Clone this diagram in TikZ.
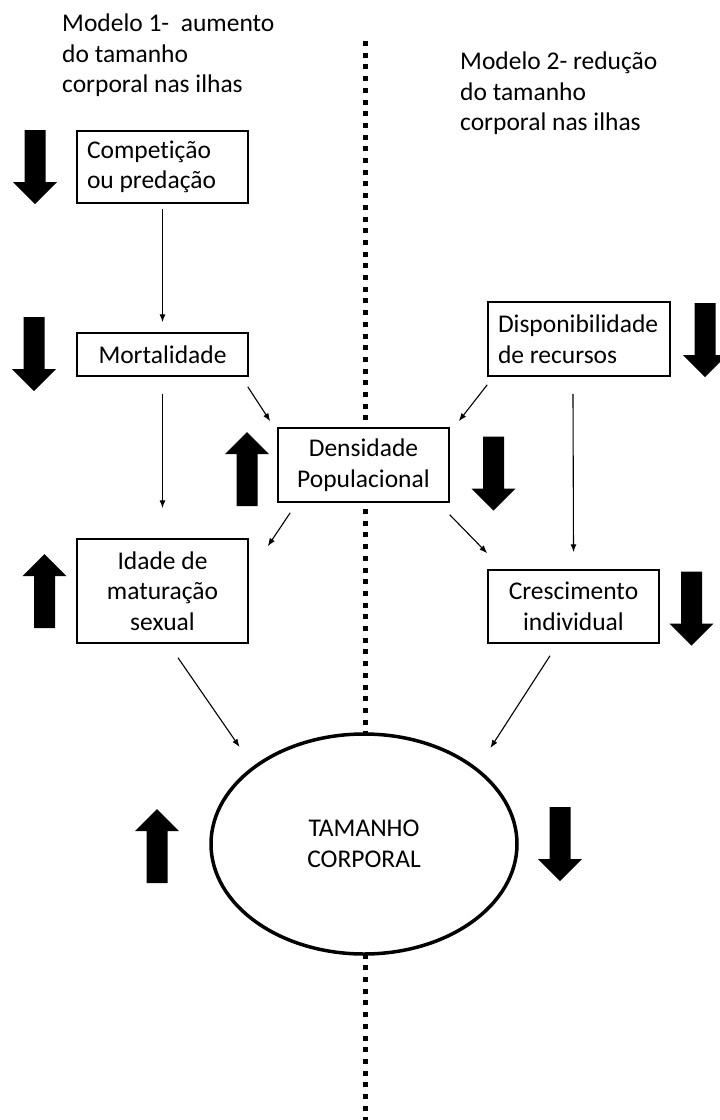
\documentclass[tikz,border=0pt]{standalone}
\usepackage{fontspec}
\setmainfont[Ligatures={NoCommon}]{Carlito}
\usetikzlibrary{arrows.meta,shapes.geometric}

\begin{document}
\begin{tikzpicture}[x=1pt,y=-1pt,
  every node/.style={font=\fontsize{25.5}{30.5}\selectfont},
  caixa/.style={draw,line width=1.5pt,fill=white,text width=151pt,
    inner xsep=10pt,inner ysep=0pt,align=flush center},
  conexao/.style={-{Latex[length=8pt,width=6pt]},line width=1.1pt},
  divisa/.style={line width=5pt,dash pattern=on 5pt off 6.7pt},
  seta baixo/.pic={\fill (-10.5,-37) -- (10.5,-37) -- (10.5,15) -- (22,15)
    -- (0,37) -- (-22,15) -- (-10.5,15) -- cycle;}]
  \useasboundingbox (0,0) rectangle (720,1120);
  % linha divisoria
  \coordinate (topo) at (365,41);
  \coordinate (fundo) at (365,1120);
  \draw[divisa] (topo) -- (fundo);
  % titulos
  \node[anchor=north west,inner sep=0pt,align=flush left] (mod1) at (62,14)
    {Modelo 1-\ \ aumento\\do tamanho\\corporal nas ilhas};
  \node[anchor=north west,inner sep=0pt,align=flush left] (mod2) at (460,52)
    {Modelo 2- redução\\do tamanho\\corporal nas ilhas};
  % caixas
  \node[caixa,align=flush left,minimum height=72pt] (comp) at (162.5,167) {Competição\\ou predação};
  \node[caixa,minimum height=43pt] (mort) at (162.5,354.5) {Mortalidade};
  \node[caixa,align=flush left,text width=162pt,minimum height=74pt] (disp) at (579,339) {Disponibilidade\\de recursos};
  \node[caixa,minimum height=74pt] (dens) at (363.5,465) {Densidade\\Populacional};
  \node[caixa,minimum height=104pt] (idade) at (162.5,591) {Idade de\\maturação\\sexual};
  \node[caixa,minimum height=73pt] (cresc) at (573.5,606.5) {Crescimento\\individual};
  \node[ellipse,draw,line width=3.5pt,fill=white,minimum width=306pt,minimum height=220pt,
    inner sep=0pt,align=flush center] (tam) at (364,844) {TAMANHO\\CORPORAL};
  % setas grossas
  \pic at (35,167) {seta baixo};
  \pic at (34,354) {seta baixo};
  \pic at (705,340) {seta baixo};
  \pic[rotate=180] at (247,469) {seta baixo};
  \pic at (493.5,473.5) {seta baixo};
  \pic[rotate=180] at (44.5,591) {seta baixo};
  \pic at (691.5,608.5) {seta baixo};
  \pic[rotate=180] at (157,846) {seta baixo};
  \pic at (560,844) {seta baixo};
  % ligacoes
  \draw[conexao] ([shift={(0,5)}]comp.south) -- ([shift={(0,-10)}]mort.north);
  \draw[conexao] ([shift={(-1,10)}]mort.south east) -- ([shift={(-7,-6)}]dens.north west);
  \draw[conexao] ([shift={(0,17)}]mort.south) -- ([shift={(0,-30)}]idade.north);
  \draw[conexao] ([shift={(0,8)}]disp.south west) -- ([shift={(9,-6)}]dens.north east);
  \draw[conexao] ([shift={(-6,17)}]disp.south) -- ([shift={(0,-17)}]cresc.north);
  \draw[conexao] ([shift={(13,10)}]dens.south west) -- ([shift={(19,8)}]idade.north east);
  \draw[conexao] ([shift={(0,12)}]dens.south east) -- ([shift={(0,-16)}]cresc.north west);
  \draw[conexao] ([shift={(15.5,14)}]idade.south) -- ([shift={(-15,-18)}]tam.north west);
  \draw[conexao] ([shift={(-23.5,12)}]cresc.south) -- ([shift={(17,-17)}]tam.north east);
\end{tikzpicture}
\end{document}
